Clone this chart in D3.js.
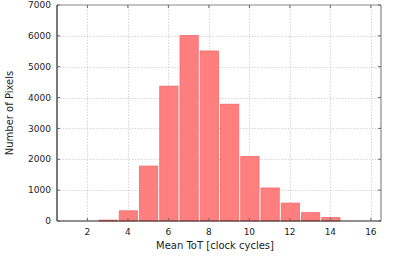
<!DOCTYPE html>
<head>
  <meta charset="utf-8">
  <script src='https://d3js.org/d3.v7.min.js'></script>
  <style>
    body {
      font-family: "DejaVu Sans", Arial, sans-serif;
      margin: 0;
      background: #fff;
    }
  </style>
</head>

<body>
<div id='vis'></div>

<script>
// histogram bins (mean ToT in clock cycles) and pixel counts
const bins = [1, 2, 3, 4, 5, 6, 7, 8, 9, 10, 11, 12, 13, 14, 15, 16];
const counts = [0, 0, 30, 330, 1780, 4370, 6010, 5510, 3785, 2090, 1070, 580, 270, 110, 0, 0];
const xTicks = [2, 4, 6, 8, 10, 12, 14, 16];
const yTicks = [0, 1000, 2000, 3000, 4000, 5000, 6000, 7000];

const width = 399;
const height = 259;
const margin = { top: 5, right: 18, bottom: 38, left: 57 };

const svg = d3.select('#vis')
  .append('svg')
  .attr('width', width)
  .attr('height', height);

const x = d3.scaleLinear()
  .domain([0.5, 16.5])
  .range([margin.left, width - margin.right]);

const y = d3.scaleLinear()
  .domain([0, 7000])
  .range([height - margin.bottom, margin.top]);

// grid
const grid = svg.append('g')
  .attr('stroke', '#c4c4c4')
  .attr('stroke-width', 0.7)
  .attr('stroke-dasharray', '1.5,1.5');

grid.selectAll('.gx')
  .data(xTicks)
  .enter()
  .append('line')
  .attr('x1', d => Math.round(x(d)) + 0.5)
  .attr('x2', d => Math.round(x(d)) + 0.5)
  .attr('y1', y(0))
  .attr('y2', y(7000));

grid.selectAll('.gy')
  .data(yTicks.slice(1, -1))
  .enter()
  .append('line')
  .attr('x1', x(0.5))
  .attr('x2', x(16.5))
  .attr('y1', d => Math.round(y(d)) + 0.5)
  .attr('y2', d => Math.round(y(d)) + 0.5);

// bars
const data = bins.map((b, i) => ({ bin: b, count: counts[i] }));

svg.selectAll('.bar')
  .data(data.filter(d => d.count > 0))
  .enter()
  .append('rect')
  .attr('class', 'bar')
  .attr('x', d => x(d.bin - 0.5) + 1.5)
  .attr('width', d => x(d.bin + 0.5) - x(d.bin - 0.5) - 2)
  .attr('y', d => y(d.count))
  .attr('height', d => y(0) - y(d.count))
  .attr('fill', '#ff7f7f')
  .attr('stroke', '#f46a6a')
  .attr('stroke-width', 0.8);

// frame: top / right grey, left / bottom dark
const x0 = x(0.5), x1 = x(16.5), y0 = y(0), y1 = y(7000);
svg.append('line').attr('x1', x0).attr('x2', x1).attr('y1', y1).attr('y2', y1)
  .attr('stroke', '#888').attr('stroke-width', 1.2);
svg.append('line').attr('x1', x1).attr('x2', x1).attr('y1', y1).attr('y2', y0)
  .attr('stroke', '#888').attr('stroke-width', 1.2);
svg.append('line').attr('x1', x0).attr('x2', x1).attr('y1', y0).attr('y2', y0)
  .attr('stroke', '#222').attr('stroke-width', 1.2);
svg.append('line').attr('x1', x0).attr('x2', x0).attr('y1', y1).attr('y2', y0)
  .attr('stroke', '#222').attr('stroke-width', 1.2);

// inward ticks (mirrored on top and right)
const ticks = svg.append('g').attr('stroke', '#666').attr('stroke-width', 1);
xTicks.forEach(t => {
  ticks.append('line').attr('x1', x(t)).attr('x2', x(t)).attr('y1', y0).attr('y2', y0 - 3);
  ticks.append('line').attr('x1', x(t)).attr('x2', x(t)).attr('y1', y1).attr('y2', y1 + 3);
});
yTicks.forEach(t => {
  ticks.append('line').attr('x1', x0).attr('x2', x0 + 3).attr('y1', y(t)).attr('y2', y(t));
  ticks.append('line').attr('x1', x1).attr('x2', x1 - 3).attr('y1', y(t)).attr('y2', y(t));
});

// tick labels
svg.selectAll('.xl')
  .data(xTicks)
  .enter()
  .append('text')
  .attr('x', d => x(d))
  .attr('y', y0 + 14)
  .style('text-anchor', 'middle')
  .style('font-size', '9px')
  .attr('fill', '#222')
  .text(d => d);

svg.selectAll('.yl')
  .data(yTicks)
  .enter()
  .append('text')
  .attr('x', x0 - 6)
  .attr('y', d => y(d))
  .attr('dy', '0.35em')
  .style('text-anchor', 'end')
  .style('font-size', '9px')
  .attr('fill', '#222')
  .text(d => d);

// axis titles
svg.append('text')
  .attr('x', (x0 + x1) / 2 - 4)
  .attr('y', 249)
  .style('text-anchor', 'middle')
  .style('font-size', '10px')
  .attr('fill', '#222')
  .text('Mean ToT [clock cycles]');

svg.append('text')
  .attr('transform', 'translate(13,' + ((y0 + y1) / 2) + ') rotate(-90)')
  .style('text-anchor', 'middle')
  .style('font-size', '10px')
  .attr('fill', '#222')
  .text('Number of Pixels');
</script>
</body>
